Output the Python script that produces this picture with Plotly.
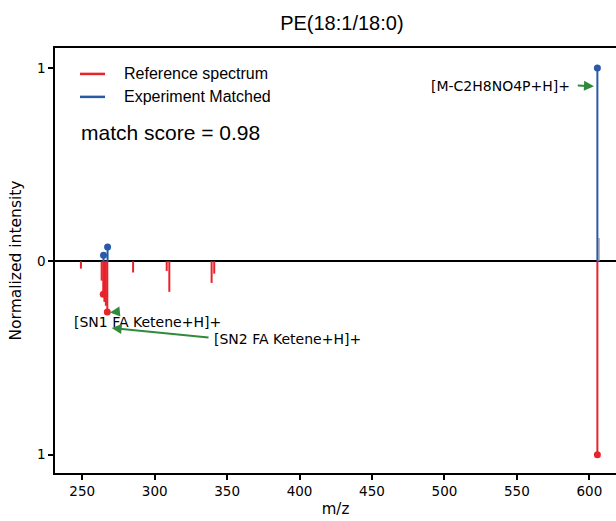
import plotly.graph_objects as go

# ---- data ----
title_text = "PE(18:1/18:0)"
ref_mz = [249.1, 263.4, 264.5, 265.3, 266.3, 267.3, 285.1, 308.3, 310.1, 339.3, 341.1, 605.55]
ref_int = [0.038, 0.10, 0.17, 0.21, 0.23, 0.262, 0.058, 0.05, 0.158, 0.112, 0.064, 1.0]
ref_matched_mz = [264.5, 267.3, 605.55]
ref_matched_int = [0.17, 0.262, 1.0]

exp_mz = [264.7, 267.5, 605.55]
exp_int = [0.031, 0.074, 1.0]
exp_other_mz = [606.6]
exp_other_int = [0.12]

match_score = 0.98
legend_labels = ["Reference spectrum", "Experiment Matched"]
ann_labels = ["[SN1 FA Ketene+H]+", "[SN2 FA Ketene+H]+", "[M-C2H8NO4P+H]+"]
xticks = [250, 300, 350, 400, 450, 500, 550, 600]
yticks = [-1, 0, 1]
yticklabels = ["1", "0", "1"]

RED = "#E8232B"
BLUE = "#2A59A6"
GREEN = "#2E8B3C"


def stems(mz, inten, sign):
    xs, ys = [], []
    for m, v in zip(mz, inten):
        xs += [m, m, None]
        ys += [0, sign * v, None]
    return xs, ys


fig = go.Figure()

rx, ry = stems(ref_mz, ref_int, -1)
fig.add_trace(go.Scatter(x=rx, y=ry, mode="lines", line=dict(color=RED, width=2),
                         name=legend_labels[0], hoverinfo="skip"))
ex, ey = stems(exp_mz, exp_int, 1)
fig.add_trace(go.Scatter(x=ex, y=ey, mode="lines", line=dict(color=BLUE, width=2),
                         name=legend_labels[1], hoverinfo="skip"))
ox, oy = stems(exp_other_mz, exp_other_int, 1)
fig.add_trace(go.Scatter(x=ox, y=oy, mode="lines", line=dict(color="#8A93A8", width=1.5),
                         hoverinfo="skip"))
fig.add_trace(go.Scatter(x=ref_matched_mz, y=[-v for v in ref_matched_int], mode="markers",
                         marker=dict(color=RED, size=7)))
fig.add_trace(go.Scatter(x=exp_mz, y=exp_int, mode="markers",
                         marker=dict(color=BLUE, size=7)))

LEG_FONT = dict(family="Liberation Sans, Arial", size=16, color="black")
ANN_FONT = dict(family="DejaVu Sans", size=14, color="black")

shapes = [
    dict(type="line", xref="paper", yref="paper", x0=0.0446, x1=0.0891, y0=0.939, y1=0.939,
         line=dict(color=RED, width=2.5)),
    dict(type="line", xref="paper", yref="paper", x0=0.0446, x1=0.0891, y0=0.885, y1=0.885,
         line=dict(color=BLUE, width=2.5)),
]

annotations = [
    dict(text=legend_labels[0], xref="paper", yref="paper", x=0.119, y=0.939,
         xanchor="left", yanchor="middle", showarrow=False, font=LEG_FONT),
    dict(text=legend_labels[1], xref="paper", yref="paper", x=0.119, y=0.885,
         xanchor="left", yanchor="middle", showarrow=False, font=LEG_FONT),
    dict(text="match score = %.2f" % match_score, xref="paper", yref="paper",
         x=0.043, y=0.802, xanchor="left", yanchor="middle", showarrow=False,
         font=dict(family="Liberation Sans, Arial", size=21, color="black")),
    # text labels
    dict(text=ann_labels[0], x=242.9, y=-0.313, xref="x", yref="y", xanchor="left",
         yanchor="middle", showarrow=False, font=ANN_FONT),
    dict(text=ann_labels[1], x=339.5, y=-0.40, xref="x", yref="y", xanchor="left",
         yanchor="middle", showarrow=False, font=ANN_FONT),
    dict(text=ann_labels[2], x=588.0, y=0.907, xref="x", yref="y", xanchor="right",
         yanchor="middle", showarrow=False, font=ANN_FONT),
    # arrows
    dict(text="", x=269.1, y=-0.265, ax=275.5, ay=-0.26, xref="x", yref="y", axref="x", ayref="y",
         showarrow=True, arrowhead=2, arrowsize=1, arrowwidth=2, arrowcolor=GREEN),
    dict(text="", x=270.3, y=-0.345, ax=338.2, ay=-0.395, xref="x", yref="y", axref="x", ayref="y",
         showarrow=True, arrowhead=2, arrowsize=1, arrowwidth=2, arrowcolor=GREEN),
    dict(text="", x=603.2, y=0.905, ax=591.0, ay=0.909, xref="x", yref="y", axref="x", ayref="y",
         showarrow=True, arrowhead=2, arrowsize=1, arrowwidth=2, arrowcolor=GREEN),
]

fig.update_layout(
    width=616, height=521,
    margin=dict(l=55, r=0, t=48, b=48),
    paper_bgcolor="white", plot_bgcolor="white",
    title=dict(text=title_text, xref="container", x=0.555, xanchor="center", y=0.955,
               yanchor="middle", font=dict(family="Liberation Sans, Arial", size=20, color="black")),
    showlegend=False,
    shapes=shapes,
    annotations=annotations,
    font=dict(family="DejaVu Sans", color="black"),
)
fig.update_xaxes(range=[231.2, 618.4], tickvals=xticks, ticks="outside", ticklen=5, tickwidth=1.5,
                 tickcolor="black", showline=True, linecolor="black", linewidth=1.5, mirror=True,
                 showgrid=False, zeroline=False, tickfont=dict(family="DejaVu Sans", size=13.5),
                 title=dict(text="m/z", font=dict(family="DejaVu Sans", size=15), standoff=6))
fig.update_yaxes(range=[-1.095, 1.103], tickvals=yticks, ticktext=yticklabels, ticks="outside",
                 ticklen=5, tickwidth=1.5, tickcolor="black", showline=True, linecolor="black",
                 linewidth=1.5, showgrid=False, zeroline=True, zerolinecolor="black", zerolinewidth=2,
                 tickfont=dict(family="DejaVu Sans", size=13.5),
                 title=dict(text="Normalized intensity", font=dict(family="DejaVu Sans", size=15.5),
                            standoff=12))

fig.write_html("out.html")
